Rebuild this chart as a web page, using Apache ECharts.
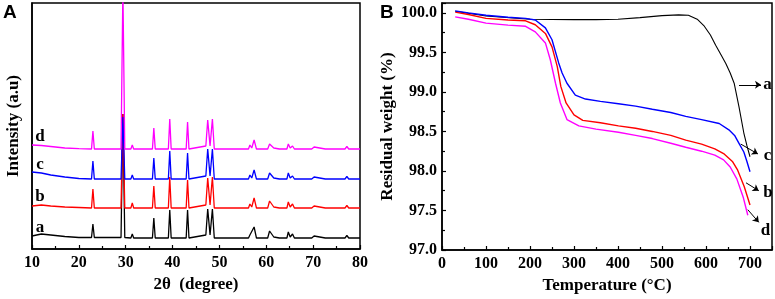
<!DOCTYPE html>
<html><head><meta charset="utf-8">
<script src="https://cdn.jsdelivr.net/npm/echarts@6/dist/echarts.min.js"></script>
<style>html,body{margin:0;padding:0;background:#fff}#c{width:775px;height:299px}</style>
</head><body><div id="c"></div>
<script>
// ---- Panel A: XRD patterns (intensity in arbitrary units, stacked) ----
const twoTheta = [10, 12, 14, 17, 20, 22.7, 23.0, 23.3, 29.0, 29.4, 29.8, 31.1, 31.4, 31.7, 35.7, 36.0, 36.3,
  39.1, 39.4, 39.7, 42.9, 43.2, 43.5, 47.1, 47.5, 48.0, 48.5, 48.9, 56.2, 56.5, 56.9, 57.4, 57.9,
  60.3, 60.7, 61.6, 62.8, 63.0, 63.3, 64.4, 64.7, 65.1, 65.6, 66.0, 69.0, 69.3, 69.7, 70.2, 70.6,
  72.6, 72.9, 73.3, 76.2, 76.5, 76.8, 77.2, 77.6, 80];
const xrdA = [13, 15, 14, 12.5, 11.5, 11.5, 25, 11.5, 11.5, 135, 11.5, 11, 15, 11, 11, 31, 11,
  11, 39, 11, 11, 39, 11, 14, 40, 14, 40, 11, 11, 14, 12, 22, 11,
  11, 18, 12, 11, 13, 11, 11, 17, 12, 15, 11, 11, 13, 11, 13, 11,
  11, 13, 11, 11, 12.5, 11, 13.5, 11, 11];
const xrdB = [43, 44, 43, 42, 41.5, 41, 60, 41, 41, 135, 41, 41, 46, 41, 41, 63, 41,
  41, 72, 41, 41, 69, 41, 44, 71, 44, 72, 41, 41, 45, 42, 51, 41,
  41, 48, 42, 41, 43, 41, 41, 47, 42, 45, 41, 41, 43, 41, 43, 41,
  41, 43, 41, 41, 42.5, 41, 43.5, 41, 41];
const xrdC = [77, 76, 74, 72, 70.5, 70, 88, 70, 70, 132, 70, 70, 74, 70, 70, 91, 70,
  70, 98, 70, 70, 96, 70, 73, 100, 73, 100, 70, 70, 74, 71, 79, 70,
  70, 76, 71, 70, 72, 70, 70, 76, 71, 73, 70, 70, 72, 70, 72, 70,
  70, 72, 70, 70, 71.5, 70, 72.5, 70, 70];
const xrdD = [104, 103.5, 102.5, 101, 100.3, 100, 118, 100, 100, 260, 100, 100, 104, 100, 100, 121, 100,
  100, 130, 100, 100, 127, 100, 103, 129, 103, 130, 100, 100, 104, 101, 109, 100,
  100, 105, 101, 100, 102, 100, 100, 105, 101, 103, 100, 100, 102, 100, 102, 100,
  100, 102, 100, 100, 101.5, 100, 102.5, 100, 100];
const xrdLabels = ['a', 'b', 'c', 'd'];
const xrdLabelPos = [[11.7, 21], [11.7, 52], [11.7, 84], [11.7, 112]];

// ---- Panel B: TGA curves ----
const tempA = [30, 100, 200, 300, 350, 400, 450, 500, 538, 560, 580, 595, 610, 622, 635, 645, 655, 664, 675, 686, 693, 700];
const weightA = [100.02, 99.96, 99.92, 99.915, 99.915, 99.92, 99.94, 99.965, 99.975, 99.97, 99.92, 99.84, 99.72, 99.59, 99.46, 99.36, 99.24, 99.11, 98.81, 98.48, 98.32, 98.18];
const tempB = [30, 60, 100, 150, 190, 212, 235, 250, 262, 270, 282, 300, 320, 360, 401, 440, 478, 520, 554, 590, 620, 640, 660, 672, 687, 700];
const weightB = [100.01, 99.98, 99.93, 99.91, 99.90, 99.85, 99.74, 99.57, 99.32, 99.07, 98.86, 98.71, 98.64, 98.61, 98.57, 98.54, 98.50, 98.45, 98.39, 98.34, 98.28, 98.22, 98.12, 98.01, 97.80, 97.57];
const tempC = [30, 60, 100, 150, 190, 212, 235, 250, 265, 273, 284, 303, 326, 360, 401, 440, 478, 520, 554, 590, 630, 652, 665, 675, 686, 693, 700];
const weightC = [100.025, 100.0, 99.97, 99.945, 99.93, 99.91, 99.81, 99.66, 99.37, 99.24, 99.11, 98.96, 98.91, 98.88, 98.85, 98.82, 98.78, 98.74, 98.69, 98.65, 98.60, 98.52, 98.45, 98.35, 98.24, 98.12, 97.99];
const tempD = [30, 60, 100, 150, 190, 212, 235, 246, 258, 269, 284, 311, 350, 401, 440, 478, 520, 554, 590, 620, 640, 655, 670, 685, 695];
const weightD = [99.95, 99.92, 99.87, 99.845, 99.83, 99.76, 99.62, 99.41, 99.11, 98.86, 98.65, 98.57, 98.53, 98.49, 98.45, 98.41, 98.35, 98.30, 98.25, 98.20, 98.14, 98.05, 97.90, 97.66, 97.44];
// arrow annotations [from, to] and label positions
const tgaArrows = [[[675, 99.09], [725, 99.09]], [[679, 98.34], [718, 98.215]], [[691, 97.85], [720, 97.75]], [[695, 97.51], [720, 97.35]]];
const tgaLabels = ['a', 'c', 'b', 'd'];
const tgaLabelPos = [[740, 99.09], [740, 98.19], [741, 97.72], [735, 97.24]];

const serif = 'Liberation Serif';
const zip = (xs, ys) => xs.map((x, i) => [x, ys[i]]);
const tickFont = {fontFamily: serif, fontWeight: 'bold', fontSize: 16, color: '#000'};
const nameFont = {fontFamily: serif, fontWeight: 'bold', fontSize: 17, color: '#000'};
const axLine = {show: true, lineStyle: {color: '#000', width: 1.5}};
const tick = {show: true, inside: true, length: 4, lineStyle: {color: '#000', width: 1.2}};
const minor = {show: true, splitNumber: 2, length: 3, lineStyle: {color: '#000', width: 1.2}};

function labelPoint(text, coord) {
  return {coord: coord, symbol: 'rect', symbolSize: 1, itemStyle: {color: 'rgba(0,0,0,0)'},
    label: {show: true, position: 'inside', formatter: text, fontFamily: serif, fontWeight: 'bold', fontSize: 17, color: '#000'}};
}

const colors = ['#000000', '#ff0000', '#0000ff', '#ff00ff'];
const xrdSeries = [xrdA, xrdB, xrdC, xrdD].map((ys, i) => ({
  type: 'line', xAxisIndex: 0, yAxisIndex: 0, showSymbol: false, clip: true,
  data: zip(twoTheta, ys), lineStyle: {color: colors[i], width: 1.3}, itemStyle: {color: colors[i]},
  markPoint: {silent: true, animation: false, data: [labelPoint(xrdLabels[i], xrdLabelPos[i])]}
}));

const tgaData = [[tempA, weightA, '#000000', 1.1], [tempD, weightD, '#ff00ff', 1.4], [tempB, weightB, '#ff0000', 1.4], [tempC, weightC, '#0000ff', 1.4]];
const tgaSeries = tgaData.map(([t, w, c, lw], i) => {
  const s = {type: 'line', xAxisIndex: 1, yAxisIndex: 1, showSymbol: false, data: zip(t, w),
    lineStyle: {color: c, width: lw}, itemStyle: {color: c}};
  if (i === 0) {
    s.markLine = {silent: true, animation: false, symbol: ['none', 'arrow'], symbolSize: 6,
      lineStyle: {color: '#000', width: 1, type: 'solid'}, label: {show: false},
      data: tgaArrows.map(([a, b]) => [{coord: a}, {coord: b}])};
    s.markPoint = {silent: true, animation: false, data: tgaLabels.map((l, k) => labelPoint(l, tgaLabelPos[k]))};
  }
  return s;
});

const chart = echarts.init(document.getElementById('c'), null, {renderer: 'canvas'});
chart.setOption({
  animation: false,
  backgroundColor: '#fff',
  title: [
    {text: 'A', left: 3, top: 3, padding: 0, textStyle: {fontFamily: 'Liberation Sans', fontWeight: 'bold', fontSize: 19, color: '#000'}},
    {text: 'B', left: 380, top: 3, padding: 0, textStyle: {fontFamily: 'Liberation Sans', fontWeight: 'bold', fontSize: 19, color: '#000'}}
  ],
  grid: [
    {left: 32, top: 3, width: 328, height: 246, show: true, borderColor: '#000', borderWidth: 1.5, backgroundColor: 'transparent'},
    {left: 442, top: 3, width: 330, height: 247, show: true, borderColor: '#000', borderWidth: 1.5, backgroundColor: 'transparent'}
  ],
  xAxis: [
    {type: 'value', gridIndex: 0, min: 10, max: 80, interval: 10, axisLine: axLine, axisTick: tick, minorTick: minor,
      splitLine: {show: false}, axisLabel: Object.assign({margin: 6}, tickFont),
      name: '2θ  (degree)', nameLocation: 'middle', nameGap: 27, nameTextStyle: nameFont},
    {type: 'value', gridIndex: 1, min: 0, max: 750, interval: 100, axisLine: axLine, axisTick: tick, minorTick: minor,
      splitLine: {show: false},
      axisLabel: Object.assign({margin: 6, formatter: v => (v % 100 === 0 ? String(v) : '')}, tickFont),
      name: 'Temperature (°C)', nameLocation: 'middle', nameGap: 27, nameTextStyle: nameFont}
  ],
  yAxis: [
    {type: 'value', gridIndex: 0, min: 0, max: 246, axisLine: axLine, axisTick: {show: false}, axisLabel: {show: false},
      splitLine: {show: false}, name: 'Intensity (a.u)', nameLocation: 'middle', nameGap: 10, nameTextStyle: nameFont},
    {type: 'value', gridIndex: 1, min: 97, max: 100.125, interval: 0.5, axisLine: axLine, axisTick: tick, minorTick: minor,
      splitLine: {show: false},
      axisLabel: Object.assign({margin: 5, formatter: v => (Math.abs(v * 2 - Math.round(v * 2)) < 1e-6 ? v.toFixed(1) : '')}, tickFont),
      name: 'Residual weight (%)', nameLocation: 'middle', nameGap: 46, nameTextStyle: nameFont}
  ],
  series: xrdSeries.concat(tgaSeries)
});
</script></body></html>
